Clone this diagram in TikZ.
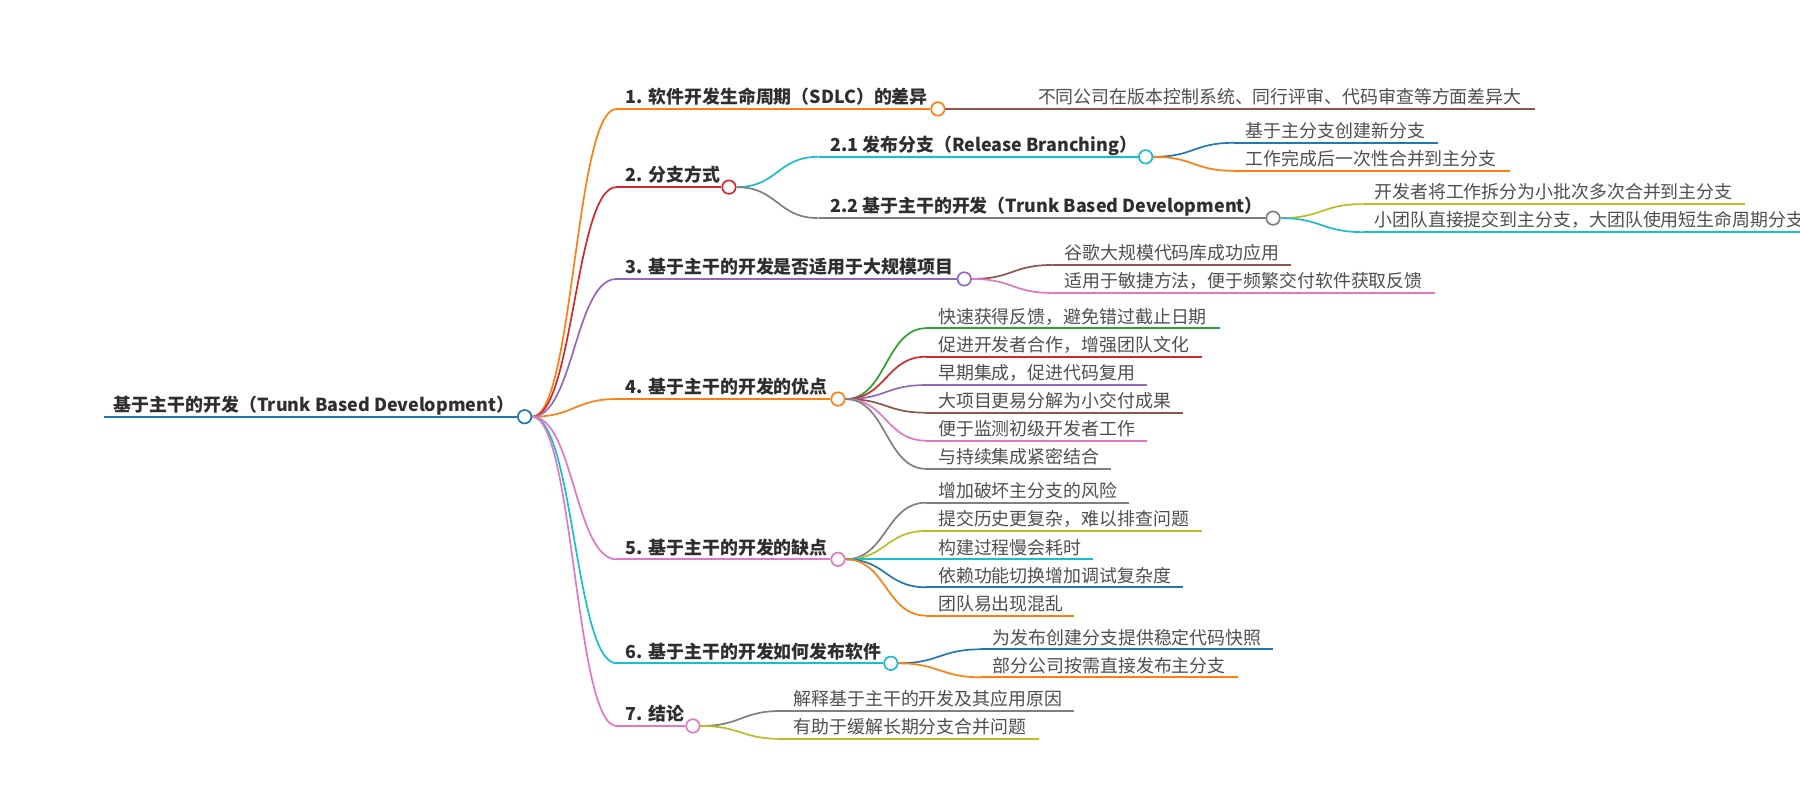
\documentclass[tikz,border=0pt]{standalone}
\usepackage{fontspec}
\setmainfont{Noto Sans CJK SC}
\definecolor{cblue}{HTML}{1F77B4}
\definecolor{corange}{HTML}{FF7F0E}
\definecolor{cred}{HTML}{D62728}
\definecolor{cpurple}{HTML}{9467BD}
\definecolor{cbrown}{HTML}{8C564B}
\definecolor{cpink}{HTML}{E377C2}
\definecolor{cgray}{HTML}{7F7F7F}
\definecolor{colive}{HTML}{BCBD22}
\definecolor{ccyan}{HTML}{17BECF}
\definecolor{cgreen}{HTML}{2CA02C}
\definecolor{headc}{HTML}{2E2E2E}
\definecolor{leafc}{HTML}{4F4F4F}
\newcommand{\mmbranch}[8]{%
  \node[mmdot,draw=#3] (#2) at (#6,#4) {};
  \coordinate (#2s) at (#5,#4);
  \node[head] (#2t) at (#7,#4-4.5) {#8};
  \draw[conn,#3] (#1.east) .. controls +(36,0) and +(-36,0) .. (#2s);
  \draw[ul,#3] (#2s) -- (#2.west);
}
\newcommand{\mmleaf}[7]{%
  \coordinate (#2s) at (#5,#4);
  \coordinate (#2e) at (#6,#4);
  \node[leaf] (#2) at (#5+10,#4-4.5) {#7};
  \draw[conn,#3] (#1.east) .. controls +(35.5,0) and +(-35.5,0) .. (#2s);
  \draw[ul,#3] (#2s) -- (#2e);
}
\begin{document}
\begin{tikzpicture}[x=0.75pt,y=-0.75pt,
  font=\fontsize{11.7}{14}\selectfont,
  conn/.style={line width=1.1pt},
  ul/.style={line width=1.3pt},
  mmdot/.style={circle,draw,fill=white,line width=1.1pt,minimum size=8.8pt,inner sep=0pt},
  head/.style={anchor=base west,inner sep=0pt,text=headc,font=\fontsize{11.7}{14}\selectfont\bfseries},
  leaf/.style={anchor=base west,inner sep=0pt,text=leafc}]
\useasboundingbox[fill=white] (0,0) rectangle (1568,697);
\clip (0,0) rectangle (1568,697);
% root
\node[mmdot,draw=cblue] (root) at (457,363) {};
\node[head] (roott) at (99,358.5) {基于主干的开发（Trunk Based Development）};
\coordinate (roots) at (91,363);
\draw[ul,cblue] (roots) -- (root.west);
% level 1
\mmbranch{root}{n1}{corange}{94.9}{537}{817}{545}{1. 软件开发生命周期（SDLC）的差异}
\mmbranch{root}{n2}{cred}{163}{537}{635}{545}{2. 分支方式}
\mmbranch{root}{n3}{cpurple}{243}{537}{840}{545}{3. 基于主干的开发是否适用于大规模项目}
\mmbranch{root}{n4}{corange}{347.6}{537}{730}{545}{4. 基于主干的开发的优点}
\mmbranch{root}{n5}{cpink}{487.2}{537}{730}{545}{5. 基于主干的开发的缺点}
\mmbranch{root}{n6}{ccyan}{577.8}{537}{776}{545}{6. 基于主干的开发如何发布软件}
\mmbranch{root}{n7}{cpink}{632.4}{537}{603.6}{545}{7. 结论}
% level 2
\mmbranch{n2}{n21}{ccyan}{136.6}{713}{998}{723}{2.1 发布分支（Release Branching）}
\mmbranch{n2}{n22}{cgray}{190}{713}{1109}{723}{2.2 基于主干的开发（Trunk Based Development）}
% leaves
\mmleaf{n1}{l11}{cbrown}{94.9}{894}{1337}{不同公司在版本控制系统、同行评审、代码审查等方面差异大}
\mmleaf{n21}{l211}{cblue}{124.4}{1075}{1253}{基于主分支创建新分支}
\mmleaf{n21}{l212}{corange}{148.8}{1075}{1315}{工作完成后一次性合并到主分支}
\mmleaf{n22}{l221}{colive}{177.8}{1187}{1520}{开发者将工作拆分为小批次多次合并到主分支}
\mmleaf{n22}{l222}{ccyan}{202.2}{1187}{1590}{小团队直接提交到主分支，大团队使用短生命周期分支}
\mmleaf{n3}{l31}{cbrown}{230.8}{917}{1125}{谷歌大规模代码库成功应用}
\mmleaf{n3}{l32}{cpink}{255.2}{917}{1250}{适用于敏捷方法，便于频繁交付软件获取反馈}
\mmleaf{n4}{l41}{cgreen}{285.9}{807}{1062.7}{快速获得反馈，避免错过截止日期}
\mmleaf{n4}{l42}{cred}{310.7}{807}{1047}{促进开发者合作，增强团队文化}
\mmleaf{n4}{l43}{cpurple}{335.4}{807}{999}{早期集成，促进代码复用}
\mmleaf{n4}{l44}{cbrown}{359.5}{807}{1030.6}{大项目更易分解为小交付成果}
\mmleaf{n4}{l45}{cpink}{383.9}{807}{999}{便于监测初级开发者工作}
\mmleaf{n4}{l46}{cgray}{408.5}{807}{968}{与持续集成紧密结合}
\mmleaf{n5}{l51}{cgray}{437.9}{807}{983.5}{增加破坏主分支的风险}
\mmleaf{n5}{l52}{colive}{462.5}{807}{1047}{提交历史更复杂，难以排查问题}
\mmleaf{n5}{l53}{ccyan}{487.2}{807}{952}{构建过程慢会耗时}
\mmleaf{n5}{l54}{cblue}{511.6}{807}{1030.6}{依赖功能切换增加调试复杂度}
\mmleaf{n5}{l55}{corange}{536.3}{807}{935.5}{团队易出现混乱}
\mmleaf{n6}{l61}{cblue}{565.6}{854.6}{1109}{为发布创建分支提供稳定代码快照}
\mmleaf{n6}{l62}{corange}{590}{854.6}{1078}{部分公司按需直接发布主分支}
\mmleaf{n7}{l71}{cgray}{619.3}{681}{935.5}{解释基于主干的开发及其应用原因}
\mmleaf{n7}{l72}{colive}{643.7}{681}{905}{有助于缓解长期分支合并问题}
\end{tikzpicture}
\end{document}
